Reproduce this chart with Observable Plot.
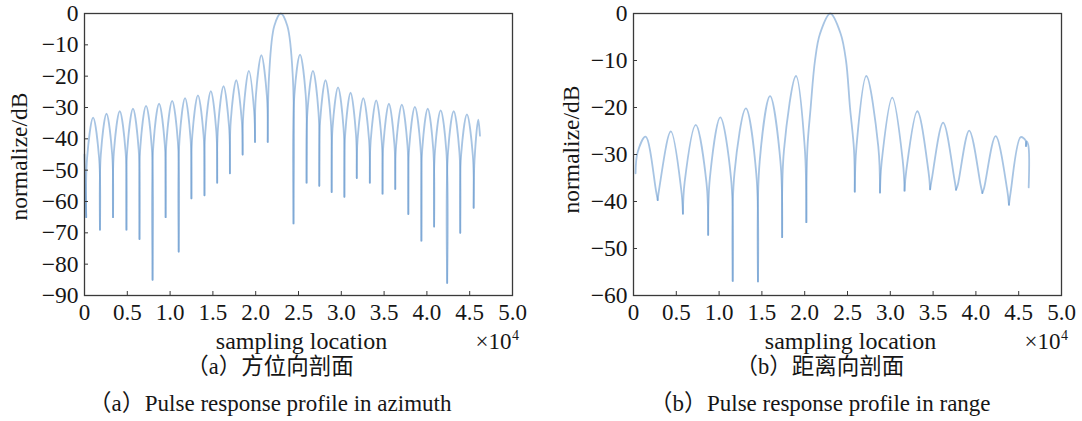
<!DOCTYPE html>
<html><head><meta charset="utf-8">
<script src="https://cdn.jsdelivr.net/npm/d3@7"></script>
<script src="https://cdn.jsdelivr.net/npm/@observablehq/plot@0.6"></script>
<style>
body{margin:0;background:#fff;}
#wrap{position:relative;width:1082px;height:421px;overflow:hidden;font-family:"Liberation Serif","Noto Sans CJK SC",serif;color:#161616;}
.panel{position:absolute;top:0;}
.cap{position:absolute;width:540px;text-align:center;white-space:nowrap;}
.cn{font-size:22.5px;line-height:26px;top:354px;}
.en{font-size:23px;line-height:26px;top:391px;}
</style></head><body>
<div id="wrap">
  <div class="panel" id="pa" style="left:0"></div>
  <div class="panel" id="pb" style="left:541px"></div>
  <div class="cap cn" id="ca1" style="left:0"></div>
  <div class="cap en" id="ca2" style="left:0"></div>
  <div class="cap cn" id="cb1" style="left:550px"></div>
  <div class="cap en" id="cb2" style="left:550px"></div>
</div>
<script>
// Azimuth profile: sampling location vs normalized dB
const azX = [0, 201,
  301, 1004, 1707, 1807,
  1907, 2570, 3233, 3333,
  3433, 4116, 4800, 4900,
  5000, 5663, 6326, 6426,
  6526, 7189, 7852, 7952,
  8052, 8715, 9378, 9478,
  9578, 10241, 10904, 11004,
  11104, 11747, 12390, 12490,
  12590, 13253, 13916, 14016,
  14116, 14759, 15402, 15502,
  15602, 16245, 16888, 16988,
  17088, 17731, 18374, 18474,
  18574, 19197, 19820, 19920,
  20020, 20663, 21306, 21406,
  21560, 22170, 22930, 23700, 24330, 24418,
  24518, 25181, 25844, 25944,
  26044, 26687, 27330, 27430,
  27530, 28153, 28776, 28876,
  28976, 29618, 30261, 30361,
  30461, 31084, 31707, 31807,
  31907, 32570, 33233, 33333,
  33433, 34076, 34719, 34819,
  34919, 35562, 36205, 36305,
  36405, 37068, 37731, 37831,
  37931, 38594, 39257, 39357,
  39457, 40100, 40743, 40843,
  40943, 41606, 42269, 42369,
  42469, 43132, 43796, 43896,
  43996, 44679, 45362, 45462,
  45562, 46000, 46200];
const azDB = [-45, -65,
  -46.2, -33.2, -46.2, -69,
  -45, -32, -45, -65,
  -44.2, -31.2, -44.2, -69,
  -43.4, -30.4, -43.4, -72,
  -42.5, -29.5, -42.5, -85,
  -41.8, -28.8, -41.8, -65,
  -40.9, -27.9, -40.9, -76,
  -40, -27, -40, -59,
  -39.1, -26.1, -39.1, -58,
  -37.8, -24.8, -37.8, -54,
  -36.2, -23.2, -36.2, -51,
  -34.3, -21.3, -34.3, -45,
  -31.3, -18.3, -31.3, -41,
  -26.3, -13.3, -26.3, -41,
  -20, -4, 0, -4, -20, -67,
  -26.1, -13.1, -26.1, -54,
  -31.3, -18.3, -31.3, -55,
  -34.3, -21.3, -34.3, -57,
  -36.6, -23.6, -36.6, -58.5,
  -38.3, -25.3, -38.3, -52.5,
  -40, -27, -40, -54,
  -40.7, -27.7, -40.7, -57.5,
  -41.8, -28.8, -41.8, -56,
  -42.1, -29.1, -42.1, -64,
  -42.8, -29.8, -42.8, -72.5,
  -43.4, -30.4, -43.4, -68,
  -43.9, -30.9, -43.9, -86,
  -44.2, -31.2, -44.2, -70,
  -45.2, -32.2, -45.2, -62,
  -46.9, -33.9, -39];

// Range profile
const rgX = [242, 485, 1414, 2627, 2827,
  3027, 4362, 5575, 5775,
  5975, 7270, 8524, 8724,
  8924, 10137, 11391, 11591,
  11791, 13126, 14340, 14540,
  14740, 15953, 17167, 17367,
  17581, 18983, 19994, 20194,
  20307, 20697, 21203, 21787, 22990, 24201, 24824, 25292, 25759, 25848,
  26048, 27200, 28596, 28796,
  28996, 30230, 31464, 31664,
  31864, 33158, 34453, 34653,
  34853, 36167, 37482, 37682,
  37882, 39216, 40551, 40751,
  40951, 42306, 43661, 43861,
  44061, 45234, 45800, 45850, 45900, 46120, 46166];
const rgDB = [-34, -29.5, -26.2, -37.7, -39.7,
  -37, -25.1, -37.5, -42.6,
  -35.9, -23.7, -36, -47.1,
  -35, -22.1, -35, -56.9,
  -34, -20.2, -34, -57,
  -31.5, -17.6, -31.5, -47.6,
  -29, -13.3, -28.2, -44.4,
  -29, -20, -10, -4.3, 0, -4.3, -10, -20, -29, -37.9,
  -28.3, -13.3, -28.3, -38.1,
  -31.5, -17.9, -31.5, -37.7,
  -33.5, -20.8, -33.5, -37.4,
  -35.2, -23.2, -35.2, -37.5,
  -36.5, -24.9, -36.5, -38.2,
  -37.2, -26.1, -37.6, -40.7,
  -38, -26.3, -27, -28.2, -27.2, -28, -37];

const xTicks = [0, 5000, 10000, 15000, 20000, 25000, 30000, 35000, 40000, 45000, 50000];
const azYTicks = [-90, -80, -70, -60, -50, -40, -30, -20, -10, 0];
const rgYTicks = [-60, -50, -40, -30, -20, -10, 0];
const yLabel = "normalize/dB";
const xLabel = "sampling location";
const xMult = "×10";
const xExp = "4";
const captionsA = ["（a）方位向剖面", "（a）Pulse response profile in azimuth"];
const captionsB = ["（b）距离向剖面", "（b）Pulse response profile in range"];

function toRows(xs, ys) {
  const rows = []; let seg = 0;
  for (let i = 0; i < xs.length; i++) {
    rows.push({x: xs[i], y: ys[i], seg});
    if (i > 0 && i < xs.length - 1 && ys[i] < ys[i-1] && ys[i] < ys[i+1]) {
      seg++;
      rows.push({x: xs[i], y: ys[i], seg});
    }
  }
  return rows;
}
const fmtX = d => d === 0 ? "0" : (d / 1e4).toFixed(1);
const fmtY = d => d === 0 ? "0" : "\u2212" + Math.abs(d);

function panel(rows, yTicks, ml, mr, labDx, labDy) {
  return Plot.plot({
    width: 541, height: 358,
    marginLeft: ml, marginRight: mr, marginTop: 13, marginBottom: 63,
    style: {fontFamily: "'Liberation Serif', 'Times New Roman', serif", fontSize: "23px", color: "#161616", background: "transparent", overflow: "visible"},
    x: {domain: [0, 50000]},
    y: {domain: [yTicks[0], 0]},
    marks: [
      Plot.line(rows, {x: "x", y: "y", z: "seg", curve: "catmull-rom", stroke: "#5e94cc", strokeOpacity: 0.55, strokeWidth: 1.8}),
      Plot.frame({stroke: "#3a3a3a", strokeWidth: 1.3}),
      Plot.axisX({ticks: xTicks, tickSize: -4, tickFormat: () => "", label: null, stroke: "#3a3a3a"}),
      Plot.axisX({ticks: xTicks, tickSize: 0, tickPadding: 8, tickFormat: fmtX, label: null, fontSize: 23}),
      Plot.axisY({ticks: yTicks, tickSize: -4, tickFormat: () => "", label: null, stroke: "#3a3a3a"}),
      Plot.axisY({ticks: yTicks, tickSize: 0, tickPadding: 6, tickFormat: fmtY, label: null, fontSize: 23.5}),
      Plot.text([yLabel], {text: d => d, frameAnchor: "left", textAnchor: "middle", lineAnchor: "middle", rotate: -90, dx: labDx, dy: labDy, fontSize: 23.5}),
      Plot.text([xLabel], {text: d => d, frameAnchor: "bottom", textAnchor: "middle", lineAnchor: "bottom", dy: 53, dx: 3, fontSize: 24}),
      Plot.text([xMult], {text: d => d, frameAnchor: "bottom-right", textAnchor: "end", lineAnchor: "bottom", dy: 53, dx: -1, fontSize: 23}),
      Plot.text([xExp], {text: d => d, frameAnchor: "bottom-right", textAnchor: "start", lineAnchor: "bottom", dy: 44, dx: -0.5, fontSize: 14})
    ]
  });
}

document.getElementById("pa").appendChild(panel(toRows(azX, azDB), azYTicks, 84, 29, -65, 2));
document.getElementById("pb").appendChild(panel(toRows(rgX, rgDB), rgYTicks, 92, 21, -62, -5));
document.getElementById("ca1").textContent = captionsA[0];
document.getElementById("ca2").textContent = captionsA[1];
document.getElementById("cb1").textContent = captionsB[0];
document.getElementById("cb2").textContent = captionsB[1];
</script>
</body></html>
